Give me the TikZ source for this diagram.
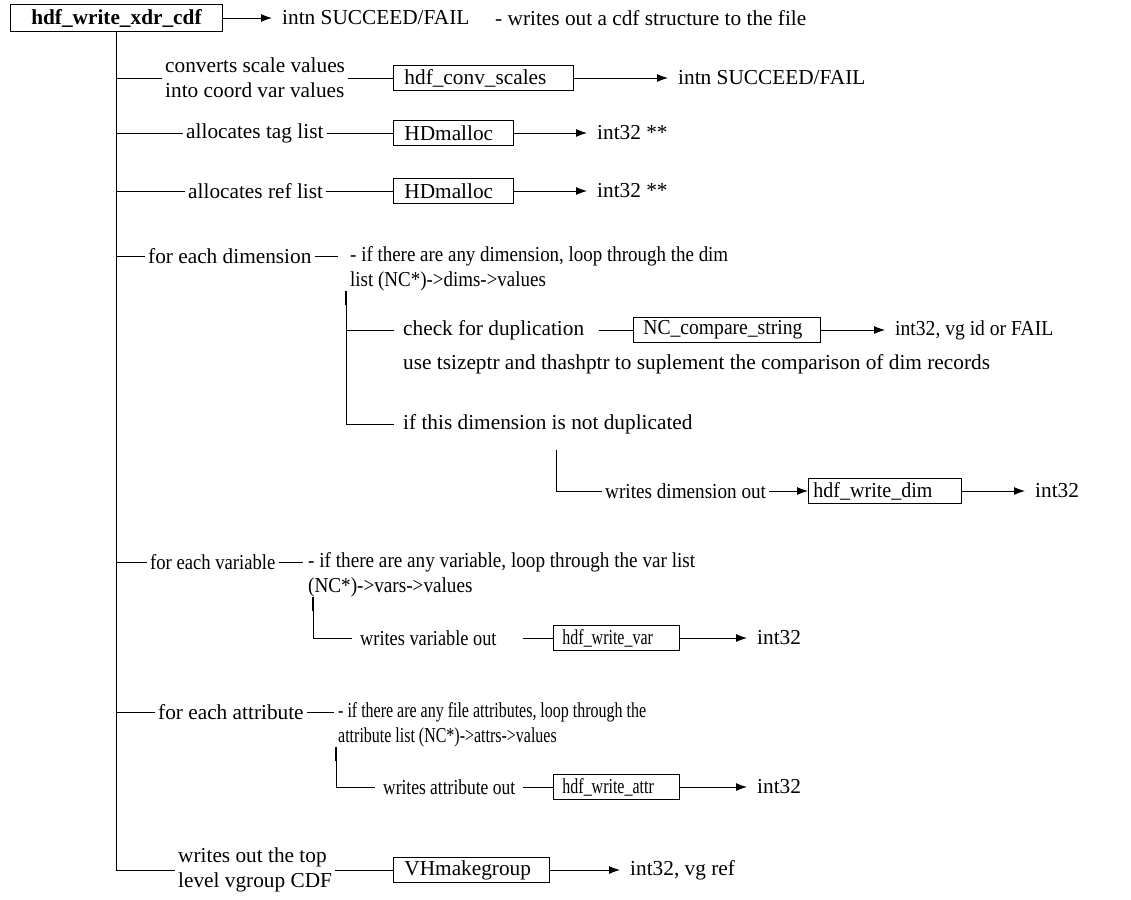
\documentclass[tikz,border=0pt]{standalone}
\usepackage{fontspec}
\setmainfont{Liberation Serif}
\usetikzlibrary{arrows.meta}
\begin{document}
\begin{tikzpicture}[x=1pt,y=-1pt,
  every node/.style={font=\fontsize{21.3}{25}\selectfont},
  sq/.style={font=\fontsize{21.3}{25}\selectfont\addfontfeatures{FakeStretch=#1}},
  lbl/.style={inner xsep=3, inner ysep=0, anchor=west},
  sublbl/.style={inner xsep=9, inner ysep=0, anchor=west},
  res/.style={inner xsep=10, inner ysep=0, anchor=west},
  desc/.style={inner xsep=4, inner ysep=0, anchor=west, align=left},
  box/.style={draw, line width=0.9, inner ysep=0, minimum height=25, anchor=west, align=left},
  ln/.style={line width=0.9},
  thk/.style={line width=2},
  arr/.style={ln, -{Latex[length=11,width=8]}}]
\useasboundingbox (0,0) rectangle (1131,899);
% root
\node[box, font=\fontsize{21.3}{25}\selectfont\bfseries, align=center, text width=192, inner xsep=10, minimum height=27] (root) at (10,18) {hdf\_write\_xdr\_cdf};
\node[res] (r0) at (272,18) {intn SUCCEED/FAIL};
\node[lbl, inner xsep=0] (d0) at (495,18) {- writes out a cdf structure to the file};
\draw[arr] (root.east) -- (r0.west);
% row 1
\node[lbl, align=left] (l1) at (162,78) {converts scale values\\into coord var values};
\node[box, inner xsep=11, text width=158] (b1) at (393,78) {hdf\_conv\_scales};
\node[res] (r1) at (668,78) {intn SUCCEED/FAIL};
\draw[ln] (root.south |- l1.west) -- (l1.west);
\draw[ln] (l1.east) -- (b1.west);
\draw[arr] (b1.east) -- (r1.west);
% row 2
\node[lbl] (l2) at (183,133) {allocates tag list};
\node[box, inner xsep=11, text width=98] (b2) at (393,133) {HDmalloc};
\node[res] (r2) at (587,133) {int32 **};
\draw[ln] (root.south |- l2.west) -- (l2.west);
\draw[ln] (l2.east) -- (b2.west);
\draw[arr] (b2.east) -- (r2.west);
% row 3
\node[lbl] (l3) at (185,191) {allocates ref list};
\node[box, inner xsep=11, text width=98] (b3) at (393,191) {HDmalloc};
\node[res] (r3) at (587,191) {int32 **};
\draw[ln] (root.south |- l3.west) -- (l3.west);
\draw[ln] (l3.east) -- (b3.west);
\draw[arr] (b3.east) -- (r3.west);
% dimension
\node[lbl] (l4) at (145,256) {for each dimension};
\node[desc, sq=0.89] (d4) at (346,268.5) {- if there are any dimension, loop through the dim\\list (NC*)->dims->values};
\draw[ln] (root.south |- l4.west) -- (l4.west);
\draw[ln, shorten >=8] (l4.east) -- (d4.west |- l4.east);
\coordinate (s4) at (346,424);
\node[sublbl] (l5) at (394,330) {check for duplication};
\node[box, sq=0.92, inner xsep=10, text width=167] (b5) at (633,330) {NC\_compare\_string};
\node[res, sq=0.92] (r5) at (885,330) {int32, vg id or FAIL};
\node[lbl, inner xsep=0] (u5) at (403,364) {use tsizeptr and thashptr to suplement the comparison of dim records};
\node[sublbl] (l6) at (394,424) {if this dimension is not duplicated};
\draw[ln] (d4.south -| s4) -- (s4) -- (l6.west);
\draw[thk] (d4.south -| s4) -- ++(0,14);
\draw[ln] (l5.west -| s4) -- (l5.west);
\draw[ln, shorten <=6] (l5.east) -- (b5.west);
\draw[arr] (b5.east) -- (r5.west);
\coordinate (s6top) at (556,450);
\node[lbl, sq=0.9] (l7) at (602,491) {writes dimension out};
\node[box, sq=0.94, inner xsep=5, text width=143] (b7) at (808,491) {hdf\_write\_dim};
\node[res] (r7) at (1025,491) {int32};
\draw[ln] (s6top) -- (s6top |- l7.west) -- (l7.west);
\draw[arr] (l7.east) -- (b7.west);
\draw[arr] (b7.east) -- (r7.west);
% variable
\node[lbl, sq=0.875] (l8) at (147,562) {for each variable};
\node[desc, sq=0.9] (d8) at (304,574.5) {- if there are any variable, loop through the var list\\(NC*)->vars->values};
\draw[ln] (root.south |- l8.west) -- (l8.west);
\draw[ln, shorten >=1] (l8.east) -- (d8.west |- l8.east);
\coordinate (s8) at (313,638);
\node[sublbl, sq=0.86, inner xsep=8] (l9) at (352,638) {writes variable out};
\node[box, sq=0.75, inner xsep=9, text width=108] (b9) at (553,638) {hdf\_write\_var};
\node[res] (r9) at (747,638) {int32};
\draw[ln] (d8.south -| s8) -- (s8) -- (l9.west);
\draw[thk] (d8.south -| s8) -- ++(0,14);
\draw[ln, shorten <=18] (l9.east) -- (b9.west);
\draw[arr] (b9.east) -- (r9.west);
% attribute
\node[lbl] (l10) at (155,712) {for each attribute};
\node[desc, sq=0.75] (d10) at (334,724.5) {- if there are any file attributes, loop through the\\attribute list (NC*)->attrs->values};
\draw[ln] (root.south |- l10.west) -- (l10.west);
\draw[ln] (l10.east) -- (d10.west |- l10.east);
\coordinate (s10) at (336,787);
\node[sublbl, sq=0.82, inner xsep=8] (l11) at (375,787) {writes attribute out};
\node[box, sq=0.75, inner xsep=9, text width=108] (b11) at (553,787) {hdf\_write\_attr};
\node[res] (r11) at (747,787) {int32};
\draw[ln] (d10.south -| s10) -- (s10) -- (l11.west);
\draw[thk] (d10.south -| s10) -- ++(0,14);
\draw[ln] (l11.east) -- (b11.west);
\draw[arr] (b11.east) -- (r11.west);
% bottom
\node[lbl, align=left] (l12) at (175,870) {writes out the top\\level vgroup CDF};
\node[box, inner xsep=11, text width=134] (b12) at (393,870) {VHmakegroup};
\node[res] (r12) at (620,870) {int32, vg ref};
\draw[ln] (root.south) -- (root.south |- l12.west) -- (l12.west);
\draw[ln] (l12.east) -- (b12.west);
\draw[arr] (b12.east) -- (r12.west);
\end{tikzpicture}
\end{document}
